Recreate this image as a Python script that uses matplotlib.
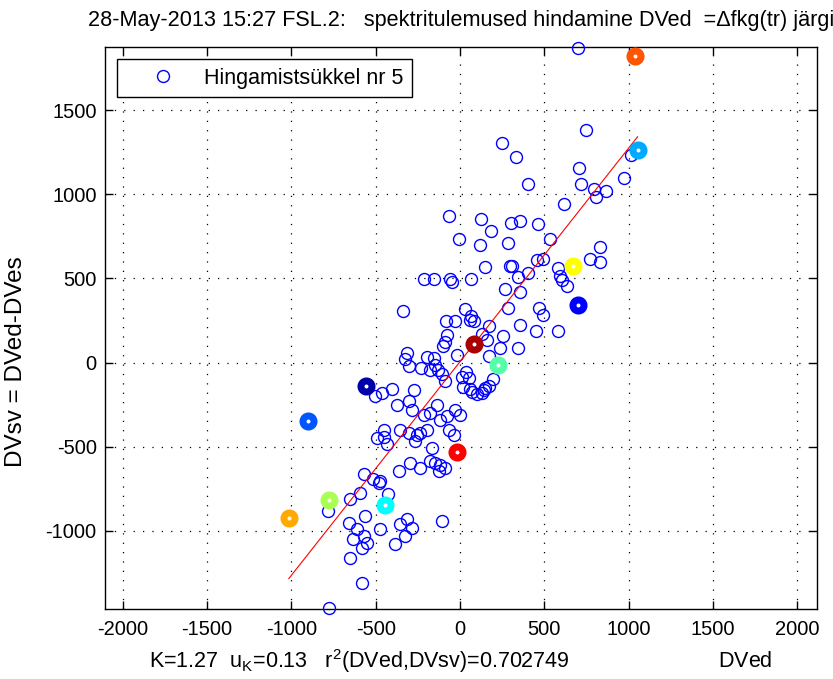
import matplotlib
matplotlib.use("Agg")
import matplotlib.pyplot as plt

# breathing-cycle points: DVed (x) vs DVsv (y)
dved = [700, 748, 249, 334, 708, 404, 720, 971, 793, 809, 868, 1015, 615, 304, 354,
        463, 285, 536, 298, 310, 457, 493, 344, 404, 579, 591, 607, 635, 769, 833,
        833, 269, 354, 285, 467, 493, 354, 453, 579, 257, -68, 126, 184, -8, 116,
        150, -216, -157, -58, -47, 67, -338, 27, 67, 61, -81, -28, 81, 170, 132,
        162, 235, 344, 170, 196, 150, 131, -75, -87, -99, -18, -315, -325, -305, -194,
        -153, -147, -230, -176, -129, -105, -87, 37, 55, 20, 61, 73, 103, 144, 174,
        14, -404, -463, -503, -275, -374, -305, -285, -216, -176, -137, -77, -117, -28, 2,
        -453, -493, -449, -431, -354, -305, -236, -196, -255, -68, -38, -166, -265, -295, -236,
        -364, -176, -147, -117, -87, -127, -572, -513, -473, -483, -424, -592, -651, -780, -562,
        -661, -611, -632, -572, -552, -582, -473, -354, -315, -285, -325, -384, -107, -651, -582,
        -776]
dvsv = [1870, 1382, 1303, 1224, 1159, 1060, 1060, 1099, 1032, 986, 1020, 1234, 941, 832, 842,
        823, 710, 735, 577, 577, 611, 617, 508, 532, 565, 516, 492, 458, 617, 690,
        597, 437, 419, 324, 324, 284, 225, 185, 185, 160, 871, 852, 783, 734, 696,
        567, 498, 498, 498, 478, 498, 304, 318, 274, 255, 250, 245, 245, 215, 171,
        136, 87, 87, 41, -97, -151, -180, 166, 124, 100, 47, 57, 21, -23, 35,
        29, -12, -30, -42, -42, -66, -107, -54, -90, -143, -155, -173, -185, -161, -137,
        -84, -160, -180, -201, -161, -250, -230, -280, -309, -299, -250, -319, -339, -280, -309,
        -398, -447, -440, -487, -398, -418, -418, -398, -428, -398, -428, -510, -468, -596, -626,
        -646, -586, -596, -606, -626, -646, -665, -695, -705, -715, -784, -774, -814, -883, -913,
        -952, -992, -1051, -1032, -1071, -1100, -992, -962, -932, -982, -1032, -1081, -942, -1160, -1308,
        -1460]

# highlighted points, one per jet colour (dark blue ... dark red)
mark_x = [-560, 698, -902, 1053, -442, 225, -776, 668, -1015, 1040, -18, 81]
mark_y = [-137, 340, -345, 1263, -848, -12, -818, 577, -925, 1821, -531, 110]
mark_colors = ["#0000AA", "#0000FF", "#0055FF", "#00AAFF", "#00FFFF", "#55FFAA",
               "#AAFF55", "#FFFF00", "#FFAA00", "#FF5500", "#FF0000", "#AA0000"]

K = 1.27
b = 5
uK = 0.13
r2 = 0.702749

x_ticks = [-2000, -1500, -1000, -500, 0, 500, 1000, 1500, 2000]
y_ticks = [-1000, -500, 0, 500, 1000, 1500]

font = "Liberation Sans"
plt.rcParams["font.family"] = [font, "DejaVu Sans"]
plt.rcParams["mathtext.fontset"] = "custom"
plt.rcParams["mathtext.rm"] = font
plt.rcParams["mathtext.it"] = font
plt.rcParams["mathtext.default"] = "regular"
plt.rcParams["axes.unicode_minus"] = False

fig = plt.figure(figsize=(8.33, 6.79), dpi=100)
ax = fig.add_axes([105 / 833, 1 - 609 / 679, 712 / 833, 562 / 679])

ax.plot(dved, dvsv, "o", mfc="none", mec="b", ms=8.6, mew=1.0,
        clip_on=False, label="Hingamistsükkel nr 5", zorder=3)

all_x = dved + mark_x
x0, x1 = min(all_x), max(all_x)
ax.plot([x0, x1], [K * x0 + b, K * x1 + b], color="r", lw=0.8, zorder=4)

for x, y, c in zip(mark_x, mark_y, mark_colors):
    ax.plot(x, y, "o", mfc="white", mec=c, ms=8, mew=5, clip_on=False, zorder=5)

ax.set_xlim(-2105, 2117)
ax.set_ylim(-1465, 1876)
ax.set_xticks(x_ticks)
ax.set_yticks(y_ticks)
ax.tick_params(direction="in", length=5.5, width=1, top=True, right=True,
               labelsize=14.5, colors="k")
ax.tick_params(axis="x", pad=8)
ax.tick_params(axis="y", pad=6)
for s in ax.spines.values():
    s.set_linewidth(1.0)
ax.grid(True, color="k", linestyle=(0, (1, 6.5)), linewidth=0.9)
ax.set_axisbelow(True)

ax.set_title("28-May-2013 15:27 FSL.2:   spektritulemused hindamine DVed  =\u0394fkg(tr) järgi",
             fontsize=15.6, pad=15)
ax.set_xlabel(f"K={K:.2f}  u$_K$={uK:.2f}   r$^2$(DVed,DVsv)={r2:.6f}" + " " * 25 + "DVed",
              fontsize=15.5, labelpad=6)
ax.set_ylabel("DVsv = DVed-DVes", fontsize=17.5)
ax.yaxis.set_label_coords(-0.1096, 0.441)

leg = ax.legend(loc="upper left", bbox_to_anchor=(0.0169, 0.9786), borderaxespad=0,
                fontsize=15.5, fancybox=False, framealpha=1, edgecolor="k",
                borderpad=0.4, handlelength=3.5, handletextpad=0.15)
leg.get_frame().set_linewidth(1.0)

fig.savefig("out.png", dpi=100)
